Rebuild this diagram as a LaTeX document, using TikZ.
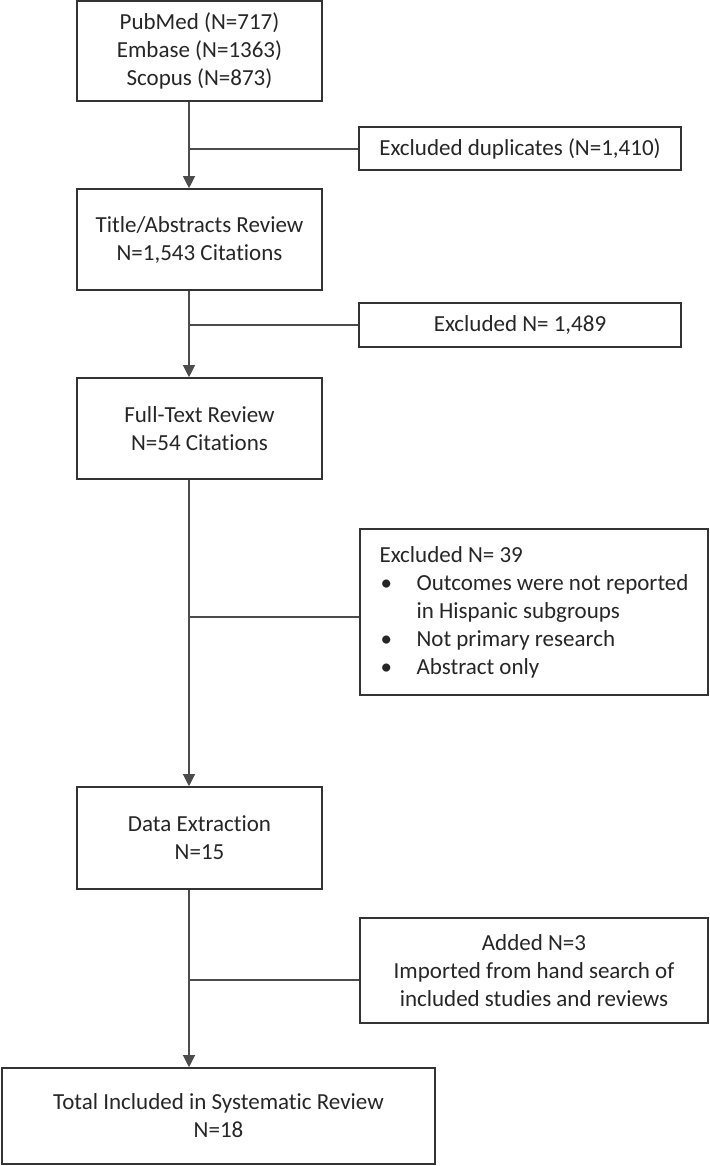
\documentclass[tikz,border=0pt]{standalone}
\usepackage{fontspec}
\setmainfont{Carlito}[Ligatures=NoCommon]
\usetikzlibrary{arrows.meta}
\begin{document}
\begin{tikzpicture}[x=1pt,y=-1pt,
  box/.style={draw=black!80, line width=1.6pt, rectangle, inner sep=0pt, align=center, text=black!85, font=\fontsize{23}{28}\selectfont},
  conn/.style={draw=black!70, line width=1.2pt},
  arr/.style={conn, -{Triangle[width=12pt,length=12pt]}}]
\useasboundingbox (0,0) rectangle (709,1166);
\coordinate (col) at (189,0);
\node[box, minimum width=245, minimum height=100] (b1) at (199.5,51) {PubMed (N=717)\\Embase (N=1363)\\Scopus (N=873)};
\node[box, minimum width=322, minimum height=43] (dup) at (520,148.5) {Excluded duplicates (N=1,410)};
\node[box, minimum width=245, minimum height=101] (b2) at (199.5,239.5) {Title/Abstracts Review\\N=1,543 Citations};
\node[box, minimum width=322, minimum height=44] (e2) at (520,325) {Excluded N= 1,489};
\node[box, minimum width=245, minimum height=101] (b3) at (199.5,428.5) {Full-Text Review\\N=54 Citations};
\node[box, minimum width=348, minimum height=166, align=left] (e3) at (534,612) {Excluded N= 39\\
\makebox[37pt][l]{\hspace{1pt}\textbullet}Outcomes were not reported\\
\hspace*{37pt}in Hispanic subgroups\\
\makebox[37pt][l]{\hspace{1pt}\textbullet}Not primary research\\
\makebox[37pt][l]{\hspace{1pt}\textbullet}Abstract only};
\node[box, minimum width=245, minimum height=102] (b4) at (199.5,838) {Data Extraction\\N=15};
\node[box, minimum width=348, minimum height=105] (add) at (534,970.5) {Added N=3\\Imported from hand search of\\included studies and reviews};
\node[box, minimum width=433, minimum height=96] (tot) at (218.5,1116) {Total Included in Systematic Review\\N=18};
\coordinate (j1) at (189,149);
\coordinate (j2) at (189,325);
\coordinate (j3) at (189,617);
\coordinate (j4) at (189,980);
\draw[arr] (b1.south -| col) -- (b2.north -| col);
\draw[arr] (b2.south -| col) -- (b3.north -| col);
\draw[arr] (b3.south -| col) -- (b4.north -| col);
\draw[arr] (b4.south -| col) -- (tot.north -| col);
\draw[conn] (j1) -- (j1 -| dup.west);
\draw[conn] (j2) -- (j2 -| e2.west);
\draw[conn] (j3) -- (j3 -| e3.west);
\draw[conn] (j4) -- (j4 -| add.west);
\end{tikzpicture}
\end{document}
